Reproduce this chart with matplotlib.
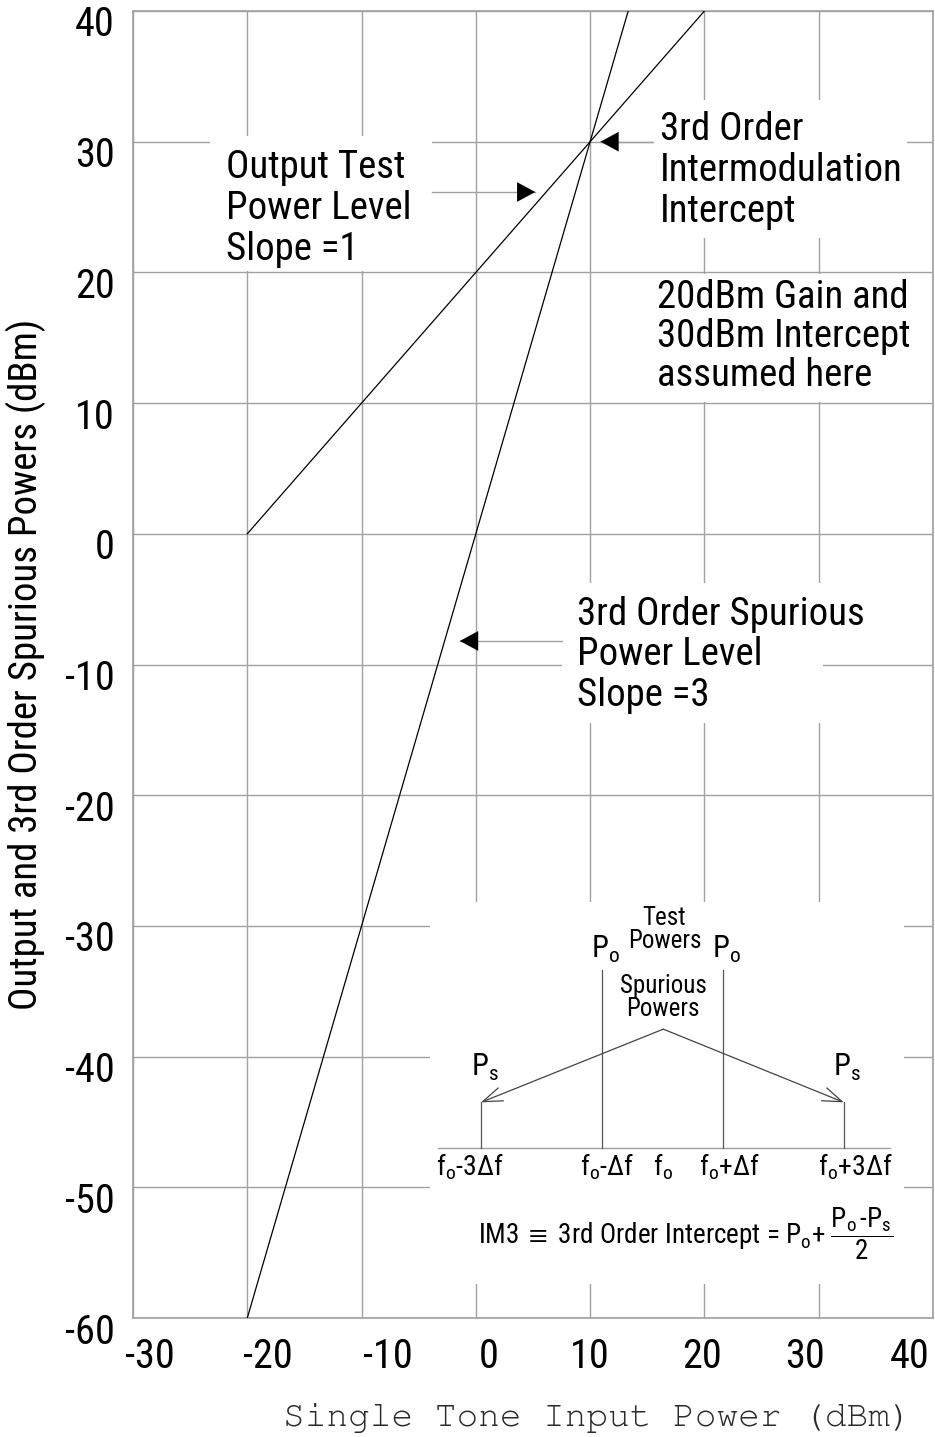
import matplotlib
matplotlib.use("Agg")
import matplotlib.pyplot as plt
import matplotlib.transforms as mtransforms
from matplotlib.patches import Rectangle
from matplotlib import font_manager as fm
from matplotlib.ft2font import FT2Font


def _has_glyphs(name, chars):
    try:
        path = fm.findfont(fm.FontProperties(family=name, weight='normal'),
                           fallback_to_default=False)
        f = FT2Font(path)
        return all(f.get_char_index(ord(c)) != 0 for c in chars)
    except Exception:
        return False


_avail = {f.name for f in fm.fontManager.ttflist}
_prefs = ['Liberation Sans Narrow', 'Arial Narrow', 'Roboto Condensed', 'Archivo Narrow',
          'Sofia Sans Condensed', 'Fira Sans Condensed', 'IBM Plex Sans Condensed',
          'Encode Sans Condensed', 'PT Sans Narrow']
NARROW = next((p for p in _prefs if p in _avail and _has_glyphs(p, 'Δ')), None)
if NARROW is None:
    NARROW = next((p for p in _prefs if p in _avail), 'DejaVu Sans')
_mono_prefs = ['Nimbus Mono PS', 'FreeMono', 'Courier Prime', 'Liberation Mono']
MONO = [m for m in _mono_prefs if m in _avail] + ['DejaVu Sans Mono']

FONT = [NARROW, 'Liberation Sans', 'DejaVu Sans']
plt.rcParams['font.family'] = FONT
plt.rcParams['mathtext.fontset'] = 'custom'
plt.rcParams['mathtext.rm'] = NARROW
plt.rcParams['mathtext.it'] = NARROW
plt.rcParams['mathtext.sf'] = NARROW
plt.rcParams['mathtext.fallback'] = 'stixsans'

# ---- data ----
x_ticks = [-30, -20, -10, 0, 10, 20, 30, 40]
y_ticks = [-60, -50, -40, -30, -20, -10, 0, 10, 20, 30, 40]
out_in = [-20, 20]          # output test power (slope 1)
out_pow = [0, 40]
spur_in = [-20, 13.33]      # 3rd order spurious (slope 3)
spur_pow = [-60, 40]

# inset spectrum diagram (drawn in the same data frame)
spec_base_y = -47.0
spec_base_x = [-3.3, 36.2]
po_x = [11.0, 21.6]
po_top = -33.4
ps_x = [0.45, 32.2]
ps_top = -43.5
apex = (16.4, -37.9)
freq_labels = ['f$_\\mathregular{o}$-3$\\mathregular{\\Delta}$f',
               'f$_\\mathregular{o}$-$\\mathregular{\\Delta}$f',
               'f$_\\mathregular{o}$',
               'f$_\\mathregular{o}$+$\\mathregular{\\Delta}$f',
               'f$_\\mathregular{o}$+3$\\mathregular{\\Delta}$f']
freq_label_x = [-0.5, 11.5, 16.4, 22.2, 33.2]

# style: horizontal nudges of x tick labels (px), as in the original artwork
x_label_shift_px = [17, 21, 26, 13, 0, -2, -14, -23]

GRID = '#a0a0a0'

fig = plt.figure(figsize=(9.35, 14.37), dpi=100)
ax = fig.add_axes([133/935, 1 - 1318/1437, 800/935, 1307/1437])
ax.set_xlim(-30, 40)
ax.set_ylim(-60, 40)
ax.set_xticks(x_ticks)
ax.set_yticks(y_ticks)
ax.set_xticklabels([str(v) for v in x_ticks])
ax.set_yticklabels([str(v) for v in y_ticks])
ax.grid(True, color=GRID, lw=1.0, zorder=0)
ax.set_axisbelow(True)
for s in ax.spines.values():
    s.set_color(GRID)
    s.set_linewidth(1.2)
ax.tick_params(axis='both', length=0, labelsize=29)
ax.tick_params(axis='y', pad=13)
ax.tick_params(axis='x', pad=14)
off = mtransforms.ScaledTranslation(0, -10/100, fig.dpi_scale_trans)
for lab in ax.get_yticklabels():
    lab.set_transform(lab.get_transform() + off)
for lab, sh in zip(ax.get_xticklabels(), x_label_shift_px):
    lab.set_transform(lab.get_transform() +
                      mtransforms.ScaledTranslation(sh/100, 0, fig.dpi_scale_trans))

# white masks behind text blocks
masks = [(-23.3, 20.1, 19.5, 10.3),
         (15.5, 22.6, 22.2, 10.6),
         (15.3, 10.1, 22.5, 9.8),
         (7.5, -14.5, 22.9, 10.7),
         (-4.0, -57.4, 41.5, 29.2)]
for (mx, my, mw, mh) in masks:
    ax.add_patch(Rectangle((mx, my), mw, mh, facecolor='white', edgecolor='none', zorder=1))

# main lines
ax.plot(out_in, out_pow, color='black', lw=0.9, zorder=3)
ax.plot(spur_in, spur_pow, color='black', lw=0.9, zorder=3)


def arrow(start, tip):
    ax.plot([start[0], tip[0]], [start[1], tip[1]], color=GRID, lw=1.0, zorder=2)
    dx = tip[0] - start[0]
    mid = (tip[0] - 1.5 * dx / abs(dx), tip[1])
    ax.annotate('', xy=tip, xytext=mid,
                arrowprops=dict(arrowstyle='-|>,head_length=0.65,head_width=0.35',
                                color='black', lw=0.1, mutation_scale=20,
                                shrinkA=0, shrinkB=0), zorder=4)


arrow((-3.8, 26.15), (5.2, 26.15))
arrow((15.5, 30.0), (10.9, 30.0))
arrow((7.5, -8.2), (-1.4, -8.2))

ts = 28
LS = 1.13
ax.text(-21.9, 24.9, 'Output Test\nPower Level\nSlope =1', fontsize=ts,
        va='center', ha='left', linespacing=LS, zorder=5)
ax.text(16.1, 27.8, '3rd Order\nIntermodulation\nIntercept', fontsize=ts,
        va='center', ha='left', linespacing=LS, zorder=5)
ax.text(15.85, 15.06, '20dBm Gain and\n30dBm Intercept\nassumed here', fontsize=ts,
        va='center', ha='left', linespacing=1.07, zorder=5)
ax.text(8.85, -9.27, '3rd Order Spurious\nPower Level\nSlope =3', fontsize=ts,
        va='center', ha='left', linespacing=LS, zorder=5)

# inset diagram
ax.plot(spec_base_x, [spec_base_y, spec_base_y], color=GRID, lw=1.0, zorder=3)
for px in po_x:
    ax.plot([px, px], [spec_base_y, po_top], color='#555555', lw=0.9, zorder=3)
for px in ps_x:
    ax.plot([px, px], [spec_base_y, ps_top], color='#555555', lw=0.9, zorder=3)
    ax.annotate('', xy=(px, ps_top), xytext=apex,
                arrowprops=dict(arrowstyle='->,head_length=0.7,head_width=0.25',
                                color='#444444', lw=0.9, mutation_scale=20,
                                shrinkA=0, shrinkB=0), zorder=3)
for px in po_x:
    ax.text(px + 0.35, -31.8, 'P$_\\mathregular{o}$', fontsize=22, ha='center',
            va='center', zorder=5)
for px in ps_x:
    ax.text(px + 0.3, -40.8, 'P$_\\mathregular{s}$', fontsize=22, ha='center',
            va='center', zorder=5)
ax.text(16.5, -30.3, 'Test\nPowers', fontsize=18, ha='center', va='center',
        linespacing=0.95, zorder=5)
ax.text(16.4, -35.5, 'Spurious\nPowers', fontsize=18, ha='center', va='center',
        linespacing=0.95, zorder=5)
for lab, fx in zip(freq_labels, freq_label_x):
    ax.text(fx, -48.4, lab, fontsize=20, ha='center', va='center', zorder=5)
ax.text(0.2, -53.5,
        'IM3 $\\equiv$ 3rd Order Intercept = P$_\\mathregular{o}$+ '
        '$\\dfrac{\\mathregular{P_o\\,\\text{-}P_s}}{\\mathregular{2}}$',
        fontsize=19.5, ha='left', va='center', zorder=5)

ax.set_ylabel('Output and 3rd Order Spurious Powers (dBm)', fontsize=28,
              labelpad=14)
fig.text(597/935, 1 - 1418/1437, 'Single Tone Input Power (dBm)',
         family=MONO, fontsize=26,
         color='#2a2a2a', ha='center', va='center')

fig.savefig('out.png', dpi=100)
